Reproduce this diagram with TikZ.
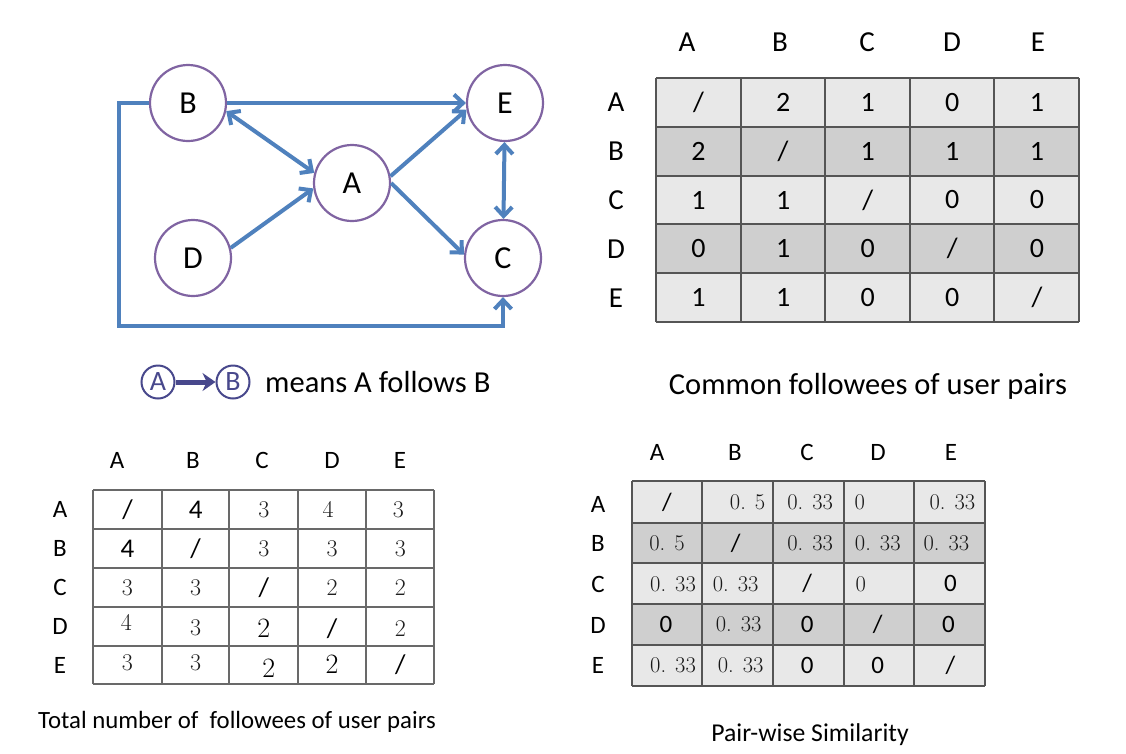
\documentclass[tikz,border=0pt]{standalone}
\usepackage{fontspec}
\newfontfamily\carl{Carlito}
\usetikzlibrary{arrows.meta}
\definecolor{edgeblue}{RGB}{79,129,189}
\definecolor{nodepurple}{RGB}{128,100,162}
\definecolor{legblue}{RGB}{72,72,140}
\definecolor{lightrow}{RGB}{232,232,232}
\definecolor{darkrow}{RGB}{207,207,207}
\definecolor{gridgray}{RGB}{85,85,85}
\definecolor{gridlite}{RGB}{105,105,105}
\tikzset{
  usr/.style={circle, draw=nodepurple, line width=2.2pt, minimum size=76pt, inner sep=0pt,
    font=\carl\fontsize{32}{32}\selectfont},
  edge/.style={draw=edgeblue, line width=4pt, line join=miter,
    -{Straight Barb[length=9pt,width=17pt]}},
  biedge/.style={draw=edgeblue, line width=4pt,
    {Straight Barb[length=9pt,width=17pt]}-{Straight Barb[length=9pt,width=17pt]}},
  legc/.style={circle, draw=legblue, line width=2pt, minimum size=33pt, inner sep=0pt,
    text=legblue, font=\carl\fontsize{28}{28}\selectfont},
  caption/.style={font=\carl\fontsize{24}{24}\selectfont, inner sep=0pt},
  lblA/.style={font=\carl\fontsize{29}{29}\selectfont, inner sep=0pt},
  lblB/.style={font=\carl\fontsize{25}{25}\selectfont, inner sep=0pt},
  s/.style={font=\carl\fontsize{28}{28}\selectfont, inner sep=0pt},
  s2/.style={font=\carl\fontsize{27}{27}\selectfont, inner sep=0pt},
  m/.style={font=\fontsize{22.5}{22.5}\selectfont, text=black!90, inner sep=0pt},
  m2/.style={font=\fontsize{24}{24}\selectfont, text=black!88, inner sep=0pt},
  mb/.style={font=\fontsize{28}{28}\selectfont, inner sep=0pt},
  sc/.style={font=\carl\fontsize{25}{25}\selectfont, inner sep=0pt},
}
\begin{document}
\begin{tikzpicture}[x=1pt,y=-1pt]
\useasboundingbox[fill=white] (0,0) rectangle (1126,753);

% ---------------- graph ----------------
\node[usr] (B) at (188,103) {B};
\node[usr] (E) at (505,103) {E};
\node[usr] (A) at (352,183) {A};
\node[usr] (D) at (193,258) {D};
\node[usr] (C) at (503,258) {C};

\draw[edge] (B.west) -- ++(-30,0) |- ([yshift=-29pt]C.south) -- (C.south);
\draw[edge] (B.east) -- (E.west);
\draw[biedge] (B.-12) -- (A.165);
\draw[edge] (D.15) -- (A.188);
\draw[edge] (A.10) -- (E.190);
\draw[edge] (A.0) -- (C.175);
\draw[biedge] (E) -- (C);

% legend
\node[legc] (LA) at (158,382) {A};
\node[legc] (LB) at (233,382) {B};
\draw[legblue, line width=5pt, -{Stealth[length=13pt,width=18pt]}] (LA) -- (LB);
\node[caption, anchor=west, font=\carl\fontsize{30.5}{30.5}\selectfont] (legtxt) at (265,382) {means A follows B};

% ---------------- table 1: common followees ----------------
\fill[lightrow] (656,78) rectangle (1079,322);
\fill[darkrow] (656,127) rectangle (1079,176);
\fill[darkrow] (656,224) rectangle (1079,273);
\foreach \xx in {656,741,825,910,994,1079}
  \draw[gridgray, line width=2pt] (\xx,78) -- (\xx,322);
\foreach \yy in {78,127,176,224,273,322}
  \draw[gridgray, line width=2pt] (656,\yy) -- (1079,\yy);
\foreach \h/\xx in {A/687,B/780,C/867,D/952,E/1038}
  \node[lblA] (t1h\h) at (\xx,42) {\h};
\foreach \h/\yy in {A/102,B/151,C/200,D/249,E/298}
  \node[lblA] (t1r\h) at (616,\yy) {\h};
\foreach \row [count=\j from 0] in {{\slash,2,1,0,1},{2,\slash,1,1,1},{1,1,\slash,0,0},{0,1,0,\slash,0},{1,1,0,0,\slash}}
  \foreach \v [count=\i from 0] in \row
    \node[s] (t1c\j\i) at ({698.5+84.6*\i},{102.4+48.8*\j}) {\v};
\node[caption, font=\carl\fontsize{30.5}{30.5}\selectfont] (cap1) at (868,386) {Common followees of user pairs};

% ---------------- table 2: total followees ----------------
\foreach \xx in {93,162,229,298,366,434}
  \draw[gridlite, line width=1.6pt] (\xx,490) -- (\xx,684);
\foreach \yy in {490,529,568,607,646,684}
  \draw[gridlite, line width=1.6pt] (93,\yy) -- (434,\yy);
\foreach \h/\xx in {A/117,B/193,C/262,D/332,E/400}
  \node[lblB] (t2h\h) at (\xx,460) {\h};
\foreach \h/\yy in {A/509,B/548,C/587,D/626,E/665}
  \node[lblB] (t2r\h) at (60,\yy) {\h};
\foreach \row [count=\j from 0] in {
   {s2/\slash/0/0,s2/4/0/0,m2/3/0/0,m2/4/-4/0,m2/3/-2/0},
   {s2/4/0/0,s2/\slash/0/0,m2/3/0/0,m2/3/0/0,m2/3/0/0},
   {m2/3/0/0,m2/3/0/0,s2/\slash/0/0,m2/2/0/0,m2/2/0/0},
   {m2/4/-1/-4,m2/3/0/2,mb/2/0/2,s2/\slash/0/2,m2/2/0/2},
   {m2/3/0/-2,m2/3/0/-2,mb/2/5/3,mb/2/0/-1,s2/\slash/0/0}}
  \foreach \st/\v/\dx/\dy [count=\i from 0] in \row
    \node[\st] (t2c\j\i) at ({127.5+68.2*\i+\dx},{509.5+38.9*\j+\dy}) {\v};
\node[caption, font=\carl\fontsize{24.8}{24.8}\selectfont] (cap2) at (237,722) {Total number of\ \ followees of user pairs};

% ---------------- table 3: similarity ----------------
\fill[lightrow] (632,481) rectangle (985,686);
\fill[darkrow] (632,523) rectangle (985,563);
\fill[darkrow] (632,604) rectangle (985,645);
\foreach \xx in {632,702,773,844,914,985}
  \draw[gridgray, line width=2pt] (\xx,481) -- (\xx,686);
\foreach \yy in {481,523,563,604,645,686}
  \draw[gridgray, line width=2pt] (632,\yy) -- (985,\yy);
\foreach \h/\xx in {A/657,B/735,C/807,D/878,E/951}
  \node[lblB] (t3h\h) at (\xx,452) {\h};
\foreach \h/\yy in {A/504,B/543,C/584,D/625,E/665}
  \node[lblB] (t3r\h) at (598,\yy) {\h};
\foreach \row [count=\j from 0] in {
   {sc/\slash/0,m/0. 5/10,m/0. 33/2,m/0/-19,m/0. 33/3},
   {m/0. 5/0,sc/\slash/-2,m/0. 33/2,m/0. 33/-1,m/0. 33/-3},
   {m/0. 33/6,m/0. 33/-2,sc/\slash/-1,m/0/-18,sc/0/1},
   {sc/0/-1,m/0. 33/1,sc/0/-1,sc/\slash/-1,sc/0/-1},
   {m/0. 33/6,m/0. 33/3,sc/0/-1,sc/0/-1,sc/\slash/1}}
  \foreach \st/\v/\dx [count=\i from 0] in \row
    \node[\st] (t3c\j\i) at ({667+70.6*\i+\dx},{502+40.9*\j}) {\v};
\node[caption, font=\carl\fontsize{25.7}{25.7}\selectfont] (cap3) at (810,735) {Pair-wise Similarity};
\end{tikzpicture}
\end{document}
